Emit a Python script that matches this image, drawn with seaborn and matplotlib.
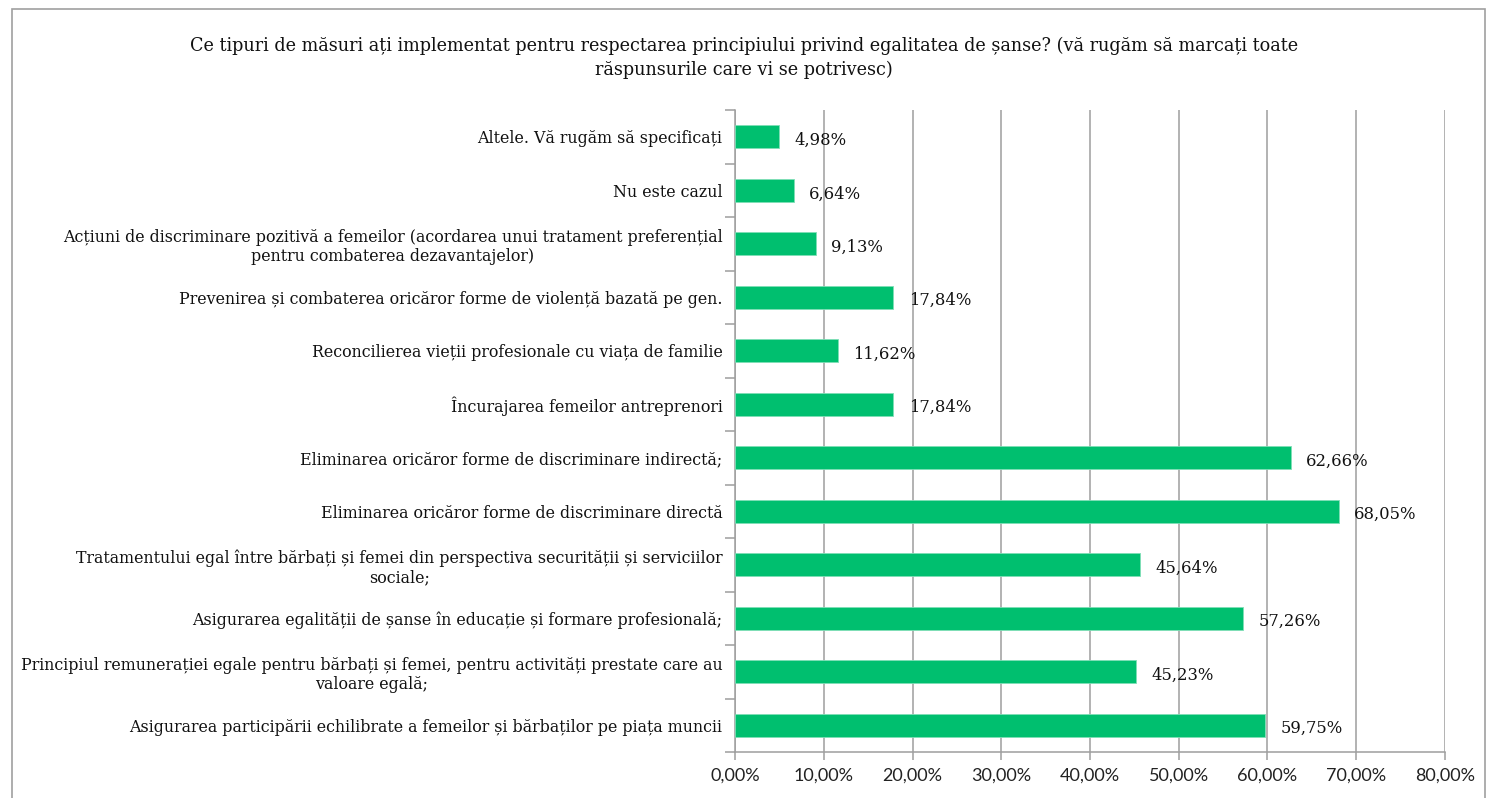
import numpy as np
import pandas as pd
import matplotlib
matplotlib.use("Agg")
import matplotlib.pyplot as plt
import seaborn as sns
from matplotlib.ticker import FuncFormatter, FixedLocator

TITLE = ("Ce tipuri de măsuri ați implementat pentru respectarea principiului privind egalitatea de șanse? "
         "(vă rugăm să marcați toate\nrăspunsurile care vi se potrivesc)")

categories = [
    "Altele. Vă rugăm să specificați",
    "Nu este cazul",
    "Acțiuni de discriminare pozitivă a femeilor (acordarea unui tratament preferențial\npentru combaterea dezavantajelor)",
    "Prevenirea și combaterea oricăror forme de violență bazată pe gen.",
    "Reconcilierea vieții profesionale cu viața de familie",
    "Încurajarea femeilor antreprenori",
    "Eliminarea oricăror forme de discriminare indirectă;",
    "Eliminarea oricăror forme de discriminare directă",
    "Tratamentului egal între bărbați și femei din perspectiva securității și serviciilor\nsociale;",
    "Asigurarea egalității de șanse în educație și formare profesională;",
    "Principiul remunerației egale pentru bărbați și femei, pentru activități prestate care au\nvaloare egală;",
    "Asigurarea participării echilibrate a femeilor și bărbaților pe piața muncii",
]
values = [4.98, 6.64, 9.13, 17.84, 11.62, 17.84, 62.66, 68.05, 45.64, 57.26, 45.23, 59.75]

SERIF = ["DejaVu Serif"]
SANS = ["Lato", "DejaVu Sans"]
GREEN = "#00BF6F"
GRID = "#9e9e9e"

sns.set_theme(style="white")
plt.rcParams['font.family'] = SERIF

df = pd.DataFrame({"cat": categories, "val": values})

fig = plt.figure(figsize=(14.88, 7.98), dpi=100)
ax = fig.add_axes([0.494, 0.0576, 0.477, 0.8044])

sns.barplot(data=df, x="val", y="cat", color=GREEN, saturation=1, width=0.43,
            orient="h", ax=ax, edgecolor="#7fdfb7", linewidth=0.6, zorder=3)

ax.set_xlim(0, 80)
ax.set_ylim(len(categories) - 0.5, -0.5)
ax.set_xlabel("")
ax.set_ylabel("")

ax.xaxis.set_major_locator(FixedLocator(np.arange(0, 81, 10)))
ax.xaxis.set_major_formatter(FuncFormatter(lambda v, p: f"{v:.2f}%".replace(".", ",")))
ax.grid(axis="x", color=GRID, linewidth=1.1, zorder=0)
ax.set_axisbelow(True)

for s in ["top", "right"]:
    ax.spines[s].set_visible(False)
for s in ["left", "bottom"]:
    ax.spines[s].set_color(GRID)
    ax.spines[s].set_linewidth(1.1)

ax.tick_params(axis="x", length=6, width=1.1, color=GRID, bottom=True, pad=5)
ax.tick_params(axis="y", which="major", length=0, pad=9)
ax.yaxis.set_minor_locator(FixedLocator(np.arange(-0.5, len(categories), 1)))
ax.tick_params(axis="y", which="minor", length=7, width=1.1, color=GRID, left=True)

for lab in ax.get_xticklabels():
    lab.set_family(SANS)
    lab.set_fontsize(13)
    lab.set_color("#222222")
for lab in ax.get_yticklabels():
    lab.set_fontsize(11.4)
    lab.set_multialignment("center")
    lab.set_color("#111111")

for i, v in enumerate(values):
    ax.annotate(f"{v:.2f}%".replace(".", ","), xy=(v, i), xytext=(11, -2.5),
                textcoords="offset points", va="center", ha="left",
                fontsize=11.8, color="#111111", family=SERIF)

fig.text(0.5, 0.928, TITLE, ha="center", va="center", fontsize=12.7,
         multialignment="center", color="#111111", linespacing=1.4)

border = plt.Rectangle((0.008, -0.01), 0.99, 0.999, transform=fig.transFigure,
                       fill=False, edgecolor="#a0a0a0", linewidth=1.2)
fig.patches.append(border)

fig.savefig("out.png", dpi=100)
